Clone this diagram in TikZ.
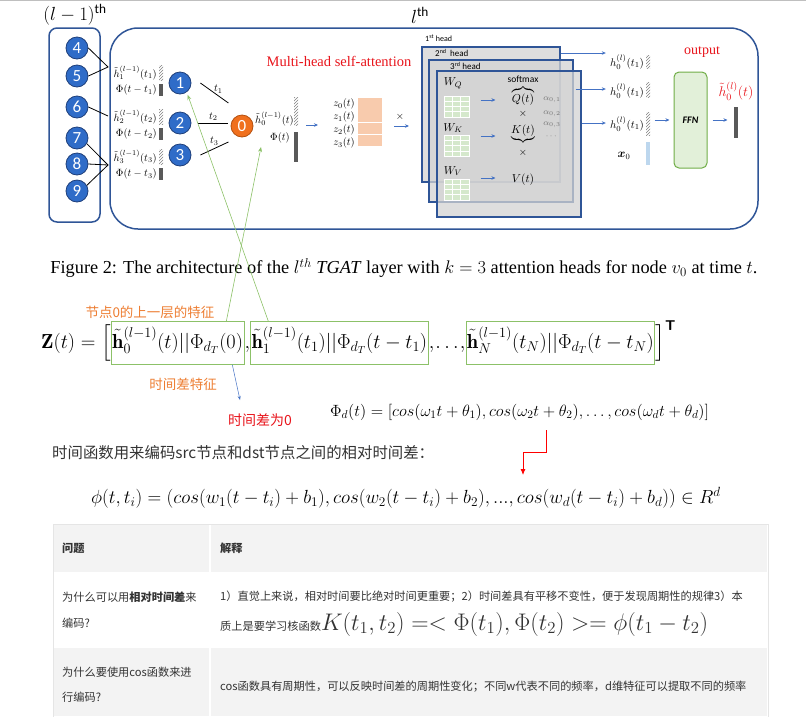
\RequirePackage{fix-cm}
\documentclass[tikz,border=0pt]{standalone}
\usepackage{amsmath,amssymb}
\usepackage{fontspec}
\newfontfamily\tms{Liberation Serif}
\newfontfamily\cjk{Noto Sans CJK SC}
\newfontfamily\clb{Carlito}
\usepackage{tikz}
\usetikzlibrary{arrows.meta,chains,positioning,patterns}
\definecolor{nodeblue}{HTML}{2F6CC8}
\definecolor{nodeedge}{HTML}{1F3F7A}
\definecolor{frameblue}{HTML}{2F5597}
\definecolor{nodeorange}{HTML}{F0701E}
\definecolor{orangeedge}{HTML}{B4500F}
\definecolor{peach}{HTML}{F8CBAD}
\definecolor{headgray}{HTML}{D3D3D3}
\definecolor{gridgreen}{HTML}{D5E8CC}
\definecolor{ffngreen}{HTML}{E2F0D9}
\definecolor{ffnedge}{HTML}{70AD47}
\definecolor{linegreen}{HTML}{8CC168}
\definecolor{notered}{HTML}{E8141B}
\definecolor{noteorange}{HTML}{ED7D31}
\definecolor{arrowblue}{HTML}{4472C4}
\definecolor{bargray}{HTML}{595959}
\definecolor{lightbar}{HTML}{BDD7EE}
\definecolor{cellgray}{HTML}{F3F3F3}
\definecolor{textgray}{HTML}{333333}
\begin{document}
\begin{tikzpicture}[x=1pt, y=-1pt,
    N/.style = {circle, draw=nodeedge, line width=0.8pt, fill=nodeblue,% neighbour nodes
                minimum size=22pt, inner sep=0pt, text=white,
                font=\clb\fontsize{17}{17}\selectfont},
    O/.style = {N, draw=orangeedge, fill=nodeorange},
    L/.style = {inner sep=0pt, font=\fontsize{10.5}{11}\selectfont},
    H/.style = {draw=frameblue, line width=1.2pt, fill=headgray, fill opacity=0.75,
                inner sep=0pt},
    G/.style = {fill=gridgreen, draw=white, line width=1pt, inner sep=0pt,
                minimum width=25pt, minimum height=21pt},
    S/.style = {pattern=north east lines, pattern color=gray},
    B/.style = {fill=bargray},
    P/.style = {arrowblue, line width=0.8pt, -{Stealth[length=4pt,width=3.5pt]}},
    Q/.style = {linegreen, line width=0.6pt, -{Stealth[length=5pt,width=4pt]}},
    C/.style = {anchor=west, inner sep=0pt, text=textgray,
                font=\cjk\fontsize{11.2}{12}\selectfont},
                        ]
\useasboundingbox (0,0) rectangle (806,716);
\draw[black!25] (0,0.5) -- (806,0.5);
% layer frames
\node[font=\fontsize{19}{20}\selectfont] (lprev) at (75,15) {$(l-1)^{\text{\clb th}}$};
\node[font=\fontsize{19}{20}\selectfont] (lcur) at (420,15) {$l^{\text{\clb th}}$};
\draw[frameblue, line width=1.5pt, rounded corners=8pt] (49,28) rectangle (100,222);
\draw[frameblue, line width=1.5pt, rounded corners=28pt] (110,28) rectangle (758,229);
% neighbours of the previous layer
\foreach \n/\y in {4/48,5/76,6/107,7/138,8/164,9/191}
    \node[N] (n\n) at (77,\y) {\n};
\coordinate (J1) at (108,67);
\coordinate (J2) at (108,116);
\coordinate (J3) at (108,165);
\draw[line width=0.8pt] (n4.east) -- (J1) -- (n5.east);
\draw[line width=0.8pt] (n6.east) -- (J2);
\draw[line width=0.8pt] (n7.-30) -- (J3) -- (n9.30);
\draw[line width=0.8pt] (n8.east) -- (J3);
\foreach \i/\y in {1/73,2/117,3/157}{
    \node[L, anchor=east] (h\i) at (157,\y) {$\tilde h_{\i}^{(l-1)}(t_{\i})$};
    \node[L, anchor=east] (f\i) at (157,\y+17) {$\Phi(t-t_{\i})$};
    \fill[S] (159,\y-8) rectangle ++(4,15);
    \fill[B] (159,\y+11) rectangle ++(4,12);
}
\node[N] (n1) at (180,83) {1};
\node[N] (n2) at (180,123) {2};
\node[N] (n3) at (180,155) {3};
\node[O] (n0) at (242,126) {0};
\draw[line width=0.8pt] ([xshift=9pt]n1.east) -- node[L, above right=-1pt] {$t_1$} ++(28,20);
\draw[line width=0.8pt] ([xshift=7pt]n2.east) -- node[L, above=2pt] {$t_2$} ++(30,0);
\draw[line width=0.8pt] ([xshift=9pt]n3.east) -- node[L, above=3pt] {$t_3$} ++(28,-13);
\node[L, anchor=west] (h0) at (255,119) {$\tilde h_0^{(l-1)}(t)$};
\node[L] (f0) at (280,138) {$\Phi(t)$};
\fill[S] (294,97) rectangle ++(4,28);
\fill[B] (294,132) rectangle ++(4,30);
\coordinate (a0) at (306,125);
\draw[P] (a0) -- ++(12,0);
\foreach \i in {0,...,3}{
    \node[L, anchor=east] (z\i) at (355,{104+13*\i}) {$z_{\i}(t)$};
    \fill[peach] (358,{98+12.25*\i}) rectangle ++(24,11.5);
}
\node[L] (x1) at (400,117) {$\times$};
\coordinate (a1) at (394,126);
\draw[P] (a1) -- ++(15,0);
\node[text=notered, font=\tms\fontsize{14.5}{14.5}\selectfont] (mhsa) at (339,61) {Multi-head self-attention};
% attention heads
\node[H, minimum width=138pt, minimum height=135pt] (H1) at (491,114.5) {};
\node[H, minimum width=144pt, minimum height=142pt] (H2) at (501,131) {};
\node[H, minimum width=144pt, minimum height=146pt] (H3) at (509,144) {};
\node[anchor=west, inner sep=0pt, font=\clb\fontsize{8}{8}\selectfont] (t1h) at (425,38) {1\textsuperscript{st} head};
\node[anchor=west, inner sep=0pt, font=\clb\fontsize{9}{9}\selectfont] (t2h) at (435,53) {2\textsuperscript{nd}\, head};
\node[anchor=west, inner sep=0pt, font=\clb\fontsize{9}{9}\selectfont] (t3h) at (450,66) {3\textsuperscript{rd} head};
\foreach \g/\w/\y/\wy/\d in {q/Q/106.5/83/-6.5,k/K/146/128/-10,v/V/189.5/171/-11.5}{
    \node[L, font=\fontsize{11.5}{12}\selectfont] (w\g) at (453,\wy) {$W_{\w}$};
    \node[G] (g\g) at (456.5,\y) {};
    \foreach \c in {1,2}
        \draw[white] ([xshift=\c*8.33pt]g\g.north west) -- ([xshift=\c*8.33pt]g\g.south west);
    \foreach \r in {1,2,3}
        \draw[white] ([yshift=-\r*5.25pt]g\g.north west) -- ([yshift=-\r*5.25pt]g\g.north east);
    \draw[P] ([shift={(11,\d)}]g\g.east) -- ++(15,0);
}
\node[inner sep=0pt, font=\clb\fontsize{9.5}{10}\selectfont] (smax) at (523,79) {softmax};
\node[L, anchor=base, font=\fontsize{11.5}{12}\selectfont] (qt) at (523,102) {$\overbrace{Q(t)}$};
\node[L] (x2) at (523,114) {$\times$};
\node[L, anchor=base, font=\fontsize{11.5}{12}\selectfont] (kt) at (523,133) {$\underbrace{K(t)}$};
\node[L] (x3) at (523,153) {$\times$};
\node[L, anchor=base, font=\fontsize{11.5}{12}\selectfont] (vt) at (523,182) {$V(t)$};
\foreach \j/\y in {1/100,2/114,3/125}
    \node[L, text=black!55, font=\fontsize{8.5}{9}\selectfont] (al\j) at (552,\y) {$\alpha_{0,\j}$};
\node[L, text=black!55, font=\fontsize{8.5}{9}\selectfont] (ald) at (552,137) {$\cdots$};
% head outputs
\foreach \i/\y in {1/62,2/91,3/124}
    \node[L, font=\fontsize{11}{12}\selectfont] (hl\i) at (627,\y) {$h_0^{(l)}(t_1)$};
\draw[P] (H1.east |- 0,53) -- ([xshift=-4pt]hl1.west |- 0,53);
\draw[P] ([xshift=2pt]H2.east |- 0,89) -- ([xshift=-4pt]hl2.west |- 0,89);
\draw[P] (H3.east |- 0,123) -- ([xshift=-4pt]hl3.west |- 0,123);
\fill[S] (646,55) rectangle ++(4,13);
\fill[S] (646,82) rectangle ++(4,15);
\fill[S] (646,112) rectangle ++(4,23);
\node[L, font=\fontsize{12}{12}\selectfont] (x0) at (624,156) {$\boldsymbol{x}_0$};
\fill[lightbar] (646,142) rectangle ++(4,23);
\node[draw=ffnedge, fill=ffngreen, line width=1pt, rounded corners=5pt,
      minimum width=33pt, minimum height=96pt,
      font=\clb\fontsize{10}{10}\selectfont\bfseries\itshape] (ffn) at (690.5,120) {FFN};
\draw[P] ([xshift=-19pt]ffn.west) -- ([xshift=-4pt]ffn.west);
\draw[P] ([xshift=5pt]ffn.east) -- ([xshift=20pt]ffn.east);
\fill[B] (734,107) rectangle ++(4,31);
\node[text=notered, font=\tms\fontsize{14}{14}\selectfont] (outlab) at (702,52) {output};
\node[text=notered, inner sep=0pt, font=\fontsize{14}{14}\selectfont] (hout) at (736,91) {$\tilde h_0^{(l)}(t)$};
% caption
\node[font=\tms\fontsize{18.3}{18.3}\selectfont] (cap) at (404,268)
    {Figure 2: The architecture of the $l^{th}$ \textit{TGAT} layer with $k=3$ attention heads for node $v_0$ at time $t$.};
% Z(t)
\begin{scope}[start chain=Z going right, node distance=0pt,
    X/.style = {on chain, inner sep=0pt, text height=16.5pt, text depth=6.5pt,
                font=\fontsize{20.3}{24}\selectfont},
    Y/.style = {X, draw=linegreen, line width=0.8pt, inner xsep=1pt,
                minimum height=43pt}]
\node[X, anchor=west] at (41,343) {$\mathbf{Z}(t) = \Bigl[$};
\node[Y] {$\tilde{\mathbf{h}}_0^{(l-1)}(t)||\Phi_{d_T}(0)$};
\node[X] {$,$};
\node[Y] {$\tilde{\mathbf{h}}_1^{(l-1)}(t_1)||\Phi_{d_T}(t-t_1)$};
\node[X] {$,\mkern-2mu\ldots\mkern-2mu,$};
\node[Y] {$\tilde{\mathbf{h}}_N^{(l-1)}(t_N)||\Phi_{d_T}(t-t_N)$};
\node[X] {$\Bigr]^{\textsf{\textbf{T}}}$};
\end{scope}
\coordinate (tipA) at (261,147);
\draw[Q] ([xshift=-18pt]Z-2.north east) -- (tipA);
\draw[Q] ([xshift=18pt]Z-4.north west) -- ([shift={(2,2)}]n1.-60);
\node[text=noteorange, font=\cjk\fontsize{13.5}{14}\selectfont] (n0feat) at (150,312) {节点0的上一层的特征};
\node[text=noteorange, font=\cjk\fontsize{13.5}{14}\selectfont] (dtfeat) at (183,384) {时间差特征};
\node[text=notered, font=\cjk\fontsize{14}{14}\selectfont] (dt0) at (260,420) {时间差为0};
\coordinate (tip0) at (240,400);
\draw[arrowblue, line width=0.5pt, -{Stealth[length=4pt,width=3pt]}] ([xshift=-12pt]Z-2.south east) -- (tip0);
% time encoding
\node[anchor=west, inner sep=0pt, font=\fontsize{16.3}{18}\selectfont] (phiD) at (330,412)
    {$\Phi_d(t) = [cos(\omega_1 t+\theta_1), cos(\omega_2 t+\theta_2), \ldots, cos(\omega_d t+\theta_d)]$};
\node[C, text=textgray, font=\cjk\fontsize{15.4}{16}\selectfont] (tfun) at (52,453) {时间函数用来编码src节点和dst节点之间的相对时间差：};
\node[anchor=west, inner sep=0pt, font=\fontsize{19}{21}\selectfont] (phi) at (91,498)
    {$\phi(t,t_i) = (cos(w_1(t-t_i)+b_1), cos(w_2(t-t_i)+b_2), ..., cos(w_d(t-t_i)+b_d)) \in R^d$};
\coordinate (r0) at (546,430);
\coordinate (r1) at (523,475);
\draw[red, line width=0.8pt, -{Latex[length=6pt,width=5pt]}] (r0) -- ++(0,22) -| (r1);
% table
\fill[cellgray] (54,525) rectangle (767,572);
\fill[cellgray] (54,648) rectangle (767,716);
\draw[white, line width=2pt] (210,525) -- (210,716);
\draw[black!10] (53,524) rectangle (768,722);
\node[C, font=\cjk\fontsize{11.2}{12}\selectfont\bfseries] (q0) at (62,548) {问题};
\node[C, font=\cjk\fontsize{11.2}{12}\selectfont\bfseries] (e0) at (220,548) {解释};
\node[C] (q1a) at (62,597) {为什么可以用{\bfseries 相对时间差}来};
\node[C] (q1b) at (62,623) {编码?};
\node[C] (e1a) at (220,597) {1）直觉上来说，相对时间要比绝对时间更重要；2）时间差具有平移不变性，便于发现周期性的规律3）本};
\node[C, anchor=base west] (e1b) at (220,630)
    {质上是要学习核函数\fontsize{24}{24}\selectfont$K(t_1,t_2) =< \Phi(t_1), \Phi(t_2) >= \phi(t_1-t_2)$};
\node[C] (q2a) at (62,672) {为什么要使用cos函数来进};
\node[C] (q2b) at (62,697) {行编码?};
\node[C] (e2) at (220,687) {cos函数具有周期性，可以反映时间差的周期性变化；不同w代表不同的频率，d维特征可以提取不同的频率};
\end{tikzpicture}
\end{document}
